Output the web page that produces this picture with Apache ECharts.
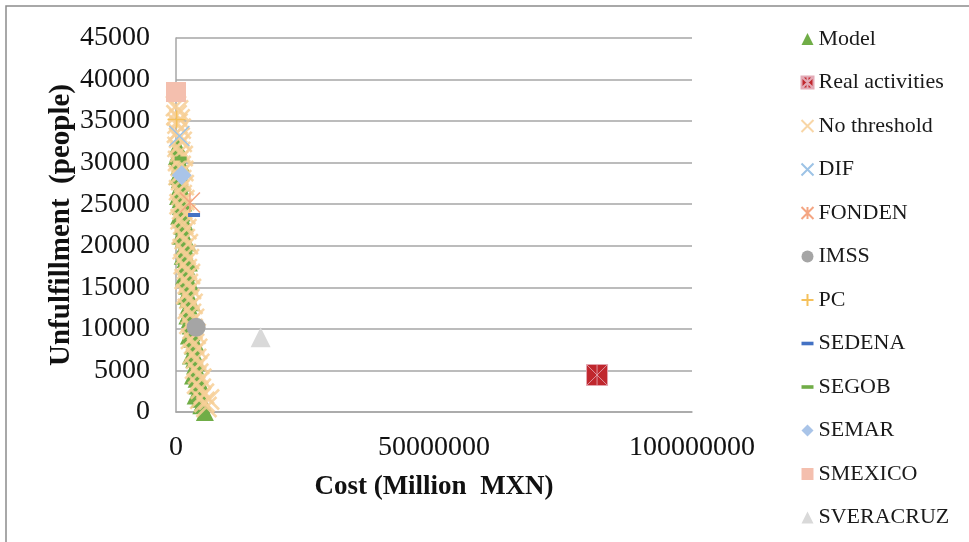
<!DOCTYPE html>
<html>
<head>
<meta charset="utf-8">
<script src="https://cdn.jsdelivr.net/npm/echarts@6/dist/echarts.min.js"></script>
<style>
  html, body { margin: 0; padding: 0; background: #fff; }
  #chart { width: 969px; height: 542px; }
</style>
</head>
<body>
<div id="chart"></div>
<script>
// 数据：成本 (x) 与 未满足人数 (y)
const modelPoints = [
  [300000, 32000], [450000, 31200], [550000, 30400], [650000, 29600], [700000, 28800],
  [750000, 28000], [800000, 27200], [850000, 26400], [900000, 25600], [950000, 24800],
  [1050000, 24000], [1150000, 23200], [1250000, 22400], [1350000, 21600], [1500000, 20800],
  [1650000, 20000], [1750000, 19200], [1850000, 18400], [1950000, 17600], [2000000, 16800],
  [2100000, 16000], [2150000, 15200], [2250000, 14400], [2350000, 13600], [2450000, 12800],
  [2550000, 12000], [2700000, 11200], [2850000, 10400], [3000000, 9600], [3150000, 8800],
  [3300000, 8000], [3400000, 7200], [3550000, 6400], [3700000, 5600], [3850000, 4800],
  [4000000, 4000], [4150000, 3200], [4350000, 2400], [4600000, 1600], [4900000, 800],
  [5600000, 0],
  [900000, 30000], [1200000, 27600], [1400000, 25200], [1700000, 22800], [2200000, 20400],
  [2500000, 18000], [2700000, 15600], [3000000, 13200], [3300000, 10800], [3700000, 8400],
  [4100000, 6000], [4600000, 3600], [5200000, 1200],
  [200000, 30800], [300000, 28400], [400000, 26000], [600000, 23600], [900000, 21200],
  [1300000, 18800], [1600000, 16400], [1900000, 14000], [2200000, 11600], [2500000, 9200],
  [2900000, 6800], [3300000, 4400], [3800000, 2000]
]
const realActivities = [[81600000, 4450]]
const noThreshold = [
  [0, 36800], [400000, 36300], [100000, 35700], [700000, 35200], [300000, 34700],
  [900000, 34100], [200000, 33600], [600000, 33000], [1100000, 32500], [300000, 31900],
  [800000, 31300], [1300000, 30800], [400000, 30200], [900000, 29600], [1400000, 29000],
  [500000, 28500], [1000000, 27900], [1500000, 27300], [600000, 26700], [1100000, 26100],
  [1600000, 25500], [700000, 25000], [1200000, 24400], [1800000, 23800], [900000, 23200],
  [1400000, 22600], [2000000, 22000], [1100000, 21400], [1700000, 20800], [2300000, 20200],
  [1300000, 19600], [1900000, 19000], [2500000, 18400], [1500000, 17800], [2100000, 17200],
  [2700000, 16600], [1700000, 16000], [2300000, 15400], [2900000, 14800], [2000000, 14200],
  [2600000, 13600], [3200000, 13000], [2300000, 12400], [2900000, 11800], [3500000, 11200],
  [2600000, 10600], [3200000, 10000], [3800000, 9400], [2900000, 8800], [3500000, 8200],
  [4100000, 7600], [3300000, 7000], [3900000, 6400], [4500000, 5800], [3700000, 5200],
  [4300000, 4600], [4900000, 4000], [4100000, 3400], [4800000, 2800], [5400000, 2200],
  [4700000, 1600], [5500000, 1200], [6400000, 1500], [5900000, 600]
]
const difPoints = [[650000, 33200]]
const fondenPoints = [[2700000, 25200]]
const imssPoints = [[3900000, 10200]]
const pcPoints = [[130000, 35200]]
const sedenaPoints = [[3500000, 23700]]
const segobPoints = [[900000, 30500]]
const semarPoints = [[1100000, 28500]]
const smexicoPoints = [[0, 38500]]
const sveracruzPoints = [[16400000, 9000]]

const yTicks = { min: 0, max: 45000, interval: 5000 }
const xTicks = { min: 0, max: 100000000, interval: 50000000 }

// 标记形状
const SYM = {
  cross: 'path://M0,0L10,10M10,0L0,10',
  plus: 'path://M5,0L5,10M0,5L10,5',
  star: 'path://M0,0L10,10M10,0L0,10M5,0L5,10',
  dash: 'path://M0,0L10,0L10,3L0,3Z',
  boxStar: 'path://M0,0L10,0L10,10L0,10ZM0,0L10,10M10,0L0,10M5,0L5,10'
}

const serif = 'Liberation Serif'
const plain = (v) => String(v)

function scatter(name, data, symbol, size, itemStyle) {
  return {
    name: name,
    type: 'scatter',
    data: data,
    symbol: symbol,
    symbolSize: size,
    clip: false,
    itemStyle: Object.assign({ opacity: 1 }, itemStyle),
    emphasis: { disabled: true }
  }
}

const chart = echarts.init(document.getElementById('chart'))

chart.setOption({
  animation: false,
  backgroundColor: '#fff',
  graphic: [{
    type: 'rect',
    shape: { x: 6, y: 6, width: 980, height: 560 },
    style: { fill: 'none', stroke: '#8c8c8c', lineWidth: 1.5 },
    silent: true
  }],
  grid: { left: 176, right: 277, top: 38, bottom: 130 },
  legend: {
    orient: 'vertical',
    left: 799,
    top: 28,
    padding: 0,
    itemWidth: 12,
    itemHeight: 12,
    itemGap: 21.5,
    textStyle: { fontFamily: serif, fontSize: 22, lineHeight: 22, color: '#1a1a1a' },
    data: ['Model', 'Real activities', 'No threshold', 'DIF', 'FONDEN', 'IMSS', 'PC',
      'SEDENA', 'SEGOB', 'SEMAR', 'SMEXICO', 'SVERACRUZ']
  },
  xAxis: {
    type: 'value',
    min: xTicks.min,
    max: xTicks.max,
    interval: xTicks.interval,
    name: 'Cost (Million  MXN)',
    nameLocation: 'middle',
    nameGap: 62,
    nameMoveOverlap: false,
    nameTextStyle: { fontFamily: serif, fontSize: 27, fontWeight: 'bold', color: '#111' },
    axisLine: { show: true, lineStyle: { color: '#a6a6a6', width: 1.5 } },
    axisTick: { show: false },
    splitLine: { show: false },
    axisLabel: { fontFamily: serif, fontSize: 28, color: '#111', margin: 22, formatter: plain }
  },
  yAxis: {
    type: 'value',
    min: yTicks.min,
    max: yTicks.max,
    interval: yTicks.interval,
    name: 'Unfulfillment  (people)',
    nameLocation: 'middle',
    nameGap: 100,
    nameMoveOverlap: false,
    nameTextStyle: { fontFamily: serif, fontSize: 29, fontWeight: 'bold', color: '#111' },
    axisLine: { show: true, lineStyle: { color: '#a6a6a6', width: 1.5 } },
    axisTick: { show: false },
    splitLine: { show: true, lineStyle: { color: '#a6a6a6', width: 1.5 } },
    axisLabel: { fontFamily: serif, fontSize: 28, color: '#111', margin: 26, formatter: plain }
  },
  series: [
    scatter('Model', modelPoints, 'triangle', 18, { color: '#70ad47' }),
    scatter('Real activities', realActivities, SYM.boxStar, 21,
      { color: '#c0272d', borderColor: '#e3aab6', borderWidth: 0.8 }),
    scatter('No threshold', noThreshold, SYM.cross, 20,
      { color: 'none', borderColor: '#f7cf96', borderWidth: 2.6, opacity: 0.85 }),
    scatter('DIF', difPoints, SYM.cross, 20,
      { color: 'none', borderColor: '#9dc3e6', borderWidth: 1.5 }),
    scatter('FONDEN', fondenPoints, SYM.star, 20,
      { color: 'none', borderColor: '#f4a582', borderWidth: 1.5 }),
    scatter('IMSS', imssPoints, 'circle', 19, { color: '#a5a5a5' }),
    scatter('PC', pcPoints, SYM.plus, 18,
      { color: 'none', borderColor: '#f5c15b', borderWidth: 1.5 }),
    scatter('SEDENA', sedenaPoints, SYM.dash, [12, 4], { color: '#4472c4' }),
    scatter('SEGOB', segobPoints, SYM.dash, [12, 4], { color: '#70ad47' }),
    scatter('SEMAR', semarPoints, 'diamond', 20, { color: '#a9c4e8' }),
    scatter('SMEXICO', smexicoPoints, 'rect', 20, { color: '#f4bfae' }),
    scatter('SVERACRUZ', sveracruzPoints, 'triangle', 20, { color: '#d9d9d9' })
  ]
})

window.addEventListener('resize', () => chart.resize())
</script>
</body>
</html>
